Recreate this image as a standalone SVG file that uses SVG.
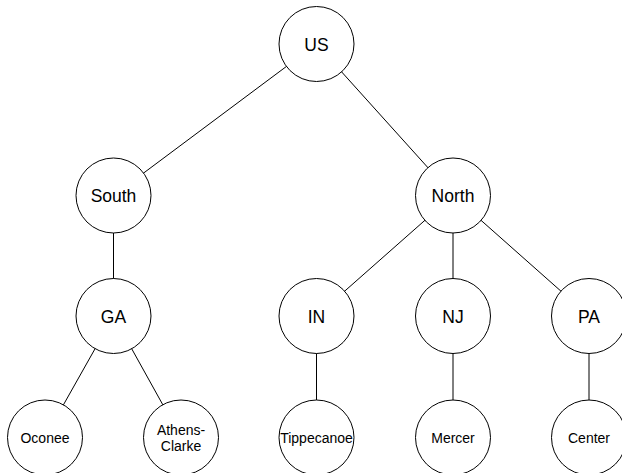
<svg xmlns="http://www.w3.org/2000/svg" width="622" height="473" viewBox="0 0 622 473">
<style>
.n circle{fill:#fff;stroke:#000;stroke-width:1}
.n text{font-family:"Liberation Sans","DejaVu Sans",sans-serif;text-anchor:middle;fill:#000}
.big{font-size:17.5px}
.small{font-size:14px}
#edges line{stroke:#000;stroke-width:1}
</style>
<rect width="622" height="473" fill="#fff"/>
<g id="edges">
<line x1="316.5" y1="44" x2="113.5" y2="195.5"/>
<line x1="316.5" y1="44" x2="453" y2="195.5"/>
<line x1="113.5" y1="195.5" x2="113.5" y2="316"/>
<line x1="453" y1="195.5" x2="316.5" y2="316"/>
<line x1="453" y1="195.5" x2="453" y2="316"/>
<line x1="453" y1="195.5" x2="589" y2="316"/>
<line x1="113.5" y1="316" x2="45" y2="437.5"/>
<line x1="113.5" y1="316" x2="181" y2="437.5"/>
<line x1="316.5" y1="316" x2="316.5" y2="437.5"/>
<line x1="453" y1="316" x2="453" y2="437.5"/>
<line x1="589" y1="316" x2="589" y2="437.5"/>
</g>
<g id="US" class="n"><circle cx="316.5" cy="44" r="37.5"/><text class="big" x="316.5" y="50.5">US</text></g>
<g id="South" class="n"><circle cx="113.5" cy="195.5" r="37.5"/><text class="big" x="113.5" y="202">South</text></g>
<g id="North" class="n"><circle cx="453" cy="195.5" r="37.5"/><text class="big" x="453" y="202">North</text></g>
<g id="GA" class="n"><circle cx="113.5" cy="316" r="37.5"/><text class="big" x="113.5" y="322.5">GA</text></g>
<g id="IN" class="n"><circle cx="316.5" cy="316" r="37.5"/><text class="big" x="316.5" y="322.5">IN</text></g>
<g id="NJ" class="n"><circle cx="453" cy="316" r="37.5"/><text class="big" x="453" y="322.5">NJ</text></g>
<g id="PA" class="n"><circle cx="589" cy="316" r="37.5"/><text class="big" x="589" y="322.5">PA</text></g>
<g id="Oconee" class="n"><circle cx="45" cy="437.5" r="37.5"/><text class="small" x="45" y="443">Oconee</text></g>
<g id="AthensClarke" class="n"><circle cx="181" cy="437.5" r="37.5"/><text class="small" x="181" y="435">Athens-</text><text class="small" x="181" y="450.5">Clarke</text></g>
<g id="Tippecanoe" class="n"><circle cx="316.5" cy="437.5" r="37.5"/><text class="small" x="316.5" y="443">Tippecanoe</text></g>
<g id="Mercer" class="n"><circle cx="453" cy="437.5" r="37.5"/><text class="small" x="453" y="443">Mercer</text></g>
<g id="Center" class="n"><circle cx="589" cy="437.5" r="37.5"/><text class="small" x="589" y="443">Center</text></g>
</svg>
